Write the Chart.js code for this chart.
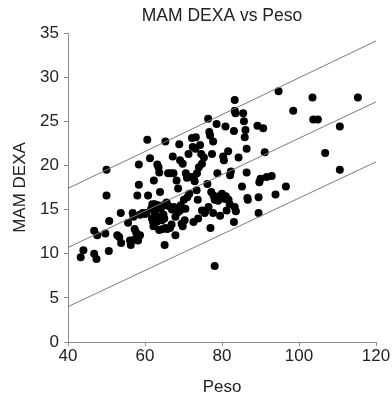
<!DOCTYPE html>
<html>
<head>
<meta charset="utf-8">
<script src="https://cdn.jsdelivr.net/npm/chart.js@4/dist/chart.umd.min.js"></script>
<style>
  html, body { margin: 0; padding: 0; background: #fff; }
  #wrap { width: 392px; height: 398px; }
</style>
</head>
<body>
<div id="wrap"><canvas id="chart" width="392" height="398"></canvas></div>
<script>
// Peso (kg) and MAM DEXA
const peso = [
  43.3, 44.0, 46.8, 47.6, 46.8, 47.4, 49.7, 50.0, 50.0, 50.7, 50.6, 53.7, 52.8, 53.3, 53.8,
  55.6, 56.1, 56.3, 56.8, 57.0, 57.3, 57.7, 57.3, 58.2, 58.0, 58.4, 58.4, 58.7, 58.7, 59.4,
  60.4, 60.6, 60.8, 61.3, 61.6, 61.8, 62.2, 62.3, 62.5, 62.6, 63.0, 63.2, 63.5, 63.7, 63.9,
  64.1, 63.9, 63.7, 64.4, 64.8, 64.8, 65.1, 65.3, 65.3, 65.6, 66.1, 66.5, 66.7, 67.2, 67.4,
  67.5, 67.9, 67.9, 68.2, 68.6, 68.9, 69.1, 69.1, 69.5, 69.8, 69.8, 70.1, 70.3, 70.5, 70.6,
  71.0, 71.3, 71.5, 71.9, 72.2, 72.4, 72.6, 72.7, 73.1, 73.2, 73.4, 73.5, 73.7, 73.8, 74.0,
  74.3, 74.6, 74.8, 74.8, 75.3, 75.5, 75.6, 76.2, 76.4, 76.5, 76.7, 76.9, 77.4, 77.2, 77.0,
  77.7, 77.7, 78.1, 78.1, 78.6, 78.8, 78.9, 79.3, 79.5, 80.0, 80.3, 80.5, 80.9, 81.0, 81.2,
  81.6, 81.7, 82.1, 82.3, 83.1, 83.3, 83.3, 83.5, 83.3, 83.1, 83.6, 84.3, 85.2, 85.5, 85.7,
  85.9, 86.1, 86.4, 86.4, 86.6, 86.7, 89.2, 89.5, 89.5, 89.7, 90.0, 90.7, 91.1, 91.6, 92.9,
  93.9, 94.7, 96.6, 98.5, 103.5, 103.7, 104.9, 106.8, 110.6, 110.6, 115.3,
  62.4, 62.9, 62.1, 64.6, 65.8, 66.9, 67.0, 68.5, 69.3, 63.3, 65.0, 77.8, 79.0, 80.8, 82.0,
  66.0, 70.9, 72.9, 60.0, 61.9
];
const mamDexa = [
  9.6, 10.4, 12.6, 12.1, 10.0, 9.4, 12.3, 19.5, 16.6, 13.7, 10.3, 14.6, 12.1, 11.9, 11.2,
  13.5, 11.5, 11.0, 14.6, 14.2, 12.8, 12.4, 11.6, 11.5, 16.6, 17.8, 20.1, 12.1, 14.4, 14.6,
  14.6, 22.9, 16.6, 20.8, 15.1, 14.0, 13.1, 18.3, 15.6, 14.6, 13.6, 20.1, 19.8, 19.2, 17.0,
  15.1, 14.2, 12.7, 13.8, 14.4, 15.5, 11.0, 22.7, 12.9, 15.8, 15.4, 12.9, 19.1, 21.0, 19.1,
  15.3, 14.2, 12.1, 18.3, 17.4, 22.4, 14.9, 20.6, 13.4, 20.2, 13.1, 16.1, 13.8, 15.1, 19.1,
  16.4, 21.3, 16.8, 18.7, 23.1, 22.1, 13.6, 18.7, 21.9, 23.2, 17.2, 19.1, 16.1, 14.0, 19.8,
  22.3, 21.3, 20.2, 14.9, 20.9, 14.6, 14.8, 17.9, 25.3, 15.3, 23.8, 23.4, 21.3, 17.0, 12.9,
  22.7, 14.6, 16.1, 8.6, 24.7, 19.1, 16.3, 16.5, 14.3, 16.8, 21.0, 20.6, 24.4, 16.5, 14.9,
  21.6, 16.1, 18.9, 19.3, 23.9, 27.4, 26.2, 25.9, 15.3, 13.6, 14.8, 20.9, 17.6, 25.9, 25.0,
  23.2, 24.0, 21.9, 19.2, 16.3, 16.1, 24.5, 14.6, 16.4, 18.1, 18.5, 24.2, 21.5, 18.7, 18.8,
  16.7, 28.4, 17.6, 26.2, 27.7, 25.2, 25.2, 21.4, 24.4, 19.5, 27.7,
  14.9, 14.2, 13.6, 12.8, 12.8, 13.3, 15.0, 14.7, 15.5, 15.5, 14.0, 16.6, 16.0, 16.2, 15.6,
  19.1, 18.6, 18.2, 14.5, 15.6
];

// regression line and prediction limits (ends at x = 40 and x = 120)
const lineX = [40, 120];
const upperBand = [17.4, 34.1];
const fitLine = [10.7, 27.2];
const lowerBand = [4.0, 20.4];

const toPoints = (xs, ys) => xs.map((x, i) => ({ x: x, y: ys[i] }));

const lineStyle = {
  type: 'line',
  showLine: true,
  borderColor: '#7a7a7a',
  borderWidth: 1,
  pointRadius: 0,
  fill: false,
};

const axisColor = '#8c8c8c';
const font17 = { family: 'Liberation Sans, Arial, sans-serif', size: 17 };

new Chart(document.getElementById('chart'), {
  type: 'scatter',
  data: {
    datasets: [
      { ...lineStyle, label: 'upper', data: toPoints(lineX, upperBand) },
      { ...lineStyle, label: 'fit', data: toPoints(lineX, fitLine) },
      { ...lineStyle, label: 'lower', data: toPoints(lineX, lowerBand) },
      {
        label: 'MAM DEXA',
        data: toPoints(peso, mamDexa),
        backgroundColor: '#000',
        borderWidth: 0,
        pointRadius: 4,
      },
    ],
  },
  options: {
    responsive: false,
    animation: false,
    layout: { padding: { left: 0, right: 16, top: 0, bottom: 0 } },
    plugins: {
      legend: { display: false },
      tooltip: { enabled: false },
      title: {
        display: true,
        fullSize: false, // centre over the plot area, not the whole canvas
        text: 'MAM DEXA vs Peso',
        color: '#222',
        font: { ...font17, size: 17.5, weight: 'normal' },
        padding: { top: 6, bottom: 6 },
      },
    },
    scales: {
      x: {
        type: 'linear',
        min: 40,
        max: 120,
        afterFit: (s) => { s.height = 56; },
        ticks: { stepSize: 20, color: '#222', font: font17, padding: 0 },
        grid: { drawOnChartArea: false, drawTicks: true, tickLength: 4, color: axisColor },
        border: { color: axisColor },
        title: { display: true, text: 'Peso', color: '#222', font: font17, padding: { top: 1, bottom: 0 } },
      },
      y: {
        min: 0,
        max: 35,
        afterFit: (s) => { s.width = 68; },
        ticks: { stepSize: 5, color: '#222', font: font17, padding: 5 },
        grid: { drawOnChartArea: false, drawTicks: true, tickLength: 4, color: axisColor },
        border: { color: axisColor },
        title: { display: true, text: 'MAM DEXA', color: '#222', font: font17, padding: { top: 10, bottom: 0 } },
      },
    },
  },
});
</script>
</body>
</html>
